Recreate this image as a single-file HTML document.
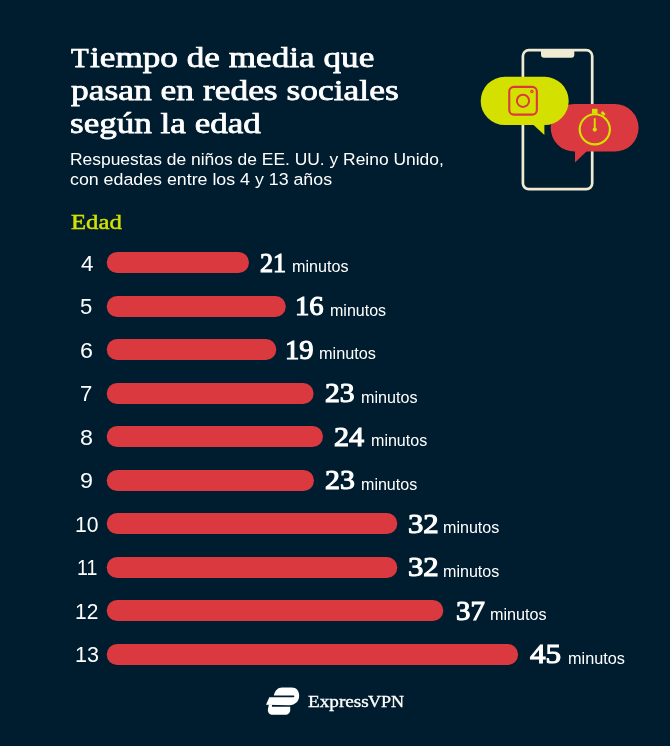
<!DOCTYPE html>
<html lang="es">
<head>
<meta charset="utf-8">
<title>Tiempo de media que pasan en redes sociales según la edad</title>
<style>
html,body{margin:0;padding:0;}
body{width:670px;height:746px;background:#001d2f;position:relative;overflow:hidden;font-family:"Liberation Sans",sans-serif;color:#fff;}
h1,p{margin:0;font-weight:normal;font-size:inherit;}
.x{position:absolute;display:block;white-space:nowrap;line-height:40px;transform-origin:0 0;color:#fff;}
.n,.t,.e,.l{font-family:"Liberation Serif",serif;font-weight:normal;}
.s,.a,.m{font-family:"Liberation Sans",sans-serif;}
svg{position:absolute;display:block;}
</style>
</head>
<body>
<h1>
<span class="x t" style="left:70.60px;top:38px;font-size:28.3px;transform:scaleX(1.0235);-webkit-text-stroke:0.75px #fff">T</span><span class="x t" style="left:90.30px;top:37px;font-size:29.5px;transform:scaleX(1.1924);-webkit-text-stroke:0.75px #fff">iempo de media que</span>
<span class="x t" style="left:70.60px;top:70px;font-size:29.5px;transform:scaleX(1.2015);-webkit-text-stroke:0.75px #fff">pasan en redes sociales</span>
<span class="x t" style="left:70.11px;top:103px;font-size:29.5px;transform:scaleX(1.1887);-webkit-text-stroke:0.75px #fff">según la edad</span>
</h1>
<p>
<span class="x s" style="left:69.73px;top:139px;font-size:16.3px;transform:scaleX(1.0700)">Respuestas de niños de EE. UU. y Reino Unido,</span>
<span class="x s" style="left:70.30px;top:159px;font-size:16.3px;transform:scaleX(1.0925)">con edades entre los 4 y 13 años</span>
</p>
<div class="x e" style="left:71.40px;top:202px;font-size:21.6px;transform:scaleX(1.1455);color:#d4e100;-webkit-text-stroke:0.45px #d4e100">Edad</div>
<div class="row">
<svg class="bar" style="left:100px;top:250.30px" width="153.0" height="25.0"><rect x="6.7" y="2" width="142.3" height="21.0" rx="10.5" fill="#da3940"/></svg>
<div class="x a" style="left:80.65px;top:244px;font-size:22.3px;transform:scaleX(1.0083)">4</div>
<div class="x n" style="left:260.20px;top:243px;font-size:27.2px;transform:scaleX(0.9615);-webkit-text-stroke:1.1px #fff">21</div>
<div class="x m" style="left:291.62px;top:246px;font-size:16.5px;transform:scaleX(0.9786)">minutos</div>
</div>
<div class="row">
<svg class="bar" style="left:100px;top:293.81px" width="189.8" height="25.0"><rect x="6.7" y="2" width="179.1" height="21.0" rx="10.5" fill="#da3940"/></svg>
<div class="x a" style="left:80.26px;top:287px;font-size:22.3px;transform:scaleX(0.9909)">5</div>
<div class="x n" style="left:294.80px;top:286px;font-size:27.2px;transform:scaleX(1.0520);-webkit-text-stroke:1.1px #fff">16</div>
<div class="x m" style="left:329.83px;top:290px;font-size:16.5px;transform:scaleX(0.9714)">minutos</div>
</div>
<div class="row">
<svg class="bar" style="left:100px;top:337.32px" width="180.3" height="25.0"><rect x="6.7" y="2" width="169.6" height="21.0" rx="10.5" fill="#da3940"/></svg>
<div class="x a" style="left:79.90px;top:331px;font-size:22.3px;transform:scaleX(1.0455)">6</div>
<div class="x n" style="left:284.90px;top:330px;font-size:27.2px;transform:scaleX(1.0480);-webkit-text-stroke:1.1px #fff">19</div>
<div class="x m" style="left:319.11px;top:333px;font-size:16.5px;transform:scaleX(0.9857)">minutos</div>
</div>
<div class="row">
<svg class="bar" style="left:100px;top:380.83px" width="217.6" height="25.0"><rect x="6.7" y="2" width="206.9" height="21.0" rx="10.5" fill="#da3940"/></svg>
<div class="x a" style="left:80.26px;top:374px;font-size:22.3px;transform:scaleX(0.9909)">7</div>
<div class="x n" style="left:325.00px;top:373px;font-size:27.2px;transform:scaleX(1.0889);-webkit-text-stroke:1.1px #fff">23</div>
<div class="x m" style="left:360.72px;top:377px;font-size:16.5px;transform:scaleX(0.9786)">minutos</div>
</div>
<div class="row">
<svg class="bar" style="left:100px;top:424.34px" width="227.0" height="25.0"><rect x="6.7" y="2" width="216.3" height="21.0" rx="10.5" fill="#da3940"/></svg>
<div class="x a" style="left:79.90px;top:418px;font-size:22.3px;transform:scaleX(1.0455)">8</div>
<div class="x n" style="left:333.90px;top:417px;font-size:27.2px;transform:scaleX(1.1071);-webkit-text-stroke:1.1px #fff">24</div>
<div class="x m" style="left:370.83px;top:420px;font-size:16.5px;transform:scaleX(0.9732)">minutos</div>
</div>
<div class="row">
<svg class="bar" style="left:100px;top:467.85px" width="218.0" height="25.0"><rect x="6.7" y="2" width="207.3" height="21.0" rx="10.5" fill="#da3940"/></svg>
<div class="x a" style="left:79.90px;top:461px;font-size:22.3px;transform:scaleX(1.0455)">9</div>
<div class="x n" style="left:325.00px;top:460px;font-size:27.2px;transform:scaleX(1.0963);-webkit-text-stroke:1.1px #fff">23</div>
<div class="x m" style="left:360.93px;top:464px;font-size:16.5px;transform:scaleX(0.9732)">minutos</div>
</div>
<div class="row">
<svg class="bar" style="left:100px;top:511.36px" width="301.3" height="25.0"><rect x="6.7" y="2" width="290.6" height="21.0" rx="10.5" fill="#da3940"/></svg>
<div class="x a" style="left:74.85px;top:505px;font-size:22.3px;transform:scaleX(0.9478)">10</div>
<div class="x n" style="left:408.20px;top:504px;font-size:27.2px;transform:scaleX(1.1308);-webkit-text-stroke:1.1px #fff">32</div>
<div class="x m" style="left:443.43px;top:507px;font-size:16.5px;transform:scaleX(0.9750)">minutos</div>
</div>
<div class="row">
<svg class="bar" style="left:100px;top:554.87px" width="301.3" height="25.0"><rect x="6.7" y="2" width="290.6" height="21.0" rx="10.5" fill="#da3940"/></svg>
<div class="x a" style="left:76.62px;top:548px;font-size:22.3px;transform:scaleX(0.8762)">11</div>
<div class="x n" style="left:408.20px;top:547px;font-size:27.2px;transform:scaleX(1.1308);-webkit-text-stroke:1.1px #fff">32</div>
<div class="x m" style="left:443.43px;top:551px;font-size:16.5px;transform:scaleX(0.9750)">minutos</div>
</div>
<div class="row">
<svg class="bar" style="left:100px;top:598.38px" width="347.3" height="25.0"><rect x="6.7" y="2" width="336.6" height="21.0" rx="10.5" fill="#da3940"/></svg>
<div class="x a" style="left:74.96px;top:592px;font-size:22.3px;transform:scaleX(0.9391)">12</div>
<div class="x n" style="left:455.80px;top:591px;font-size:27.2px;transform:scaleX(1.0593);-webkit-text-stroke:1.1px #fff">37</div>
<div class="x m" style="left:490.12px;top:594px;font-size:16.5px;transform:scaleX(0.9804)">minutos</div>
</div>
<div class="row">
<svg class="bar" style="left:100px;top:641.89px" width="422.1" height="25.0"><rect x="6.7" y="2" width="411.4" height="21.0" rx="10.5" fill="#da3940"/></svg>
<div class="x a" style="left:74.63px;top:635px;font-size:22.3px;transform:scaleX(0.9652)">13</div>
<div class="x n" style="left:530.30px;top:634px;font-size:27.2px;transform:scaleX(1.1444);-webkit-text-stroke:1.1px #fff">45</div>
<div class="x m" style="left:567.62px;top:638px;font-size:16.5px;transform:scaleX(0.9839)">minutos</div>
</div>

<!-- phone illustration -->
<svg style="left:470px;top:30px" width="180" height="180" viewBox="470 30 180 180">
  <rect x="522.9" y="50.1" width="69.3" height="139.1" rx="6" ry="6" fill="none" stroke="#f0ead2" stroke-width="2.7"/>
  <path d="M541 49 H574.3 V54.7 Q574.3 57.7 571.3 57.7 H544 Q541 57.7 541 54.7 Z" fill="#f0ead2"/>
  <!-- red bubble with stopwatch -->
  <path d="M575 150 V162.4 L587 151 Z" fill="#da3940"/>
  <rect x="550.7" y="104" width="87.9" height="47.6" rx="23.8" fill="#da3940"/>
  <circle cx="594.8" cy="129.35" r="15.1" fill="none" stroke="#d4e100" stroke-width="2.2"/>
  <rect x="592" y="108.8" width="5.5" height="5" fill="#d4e100"/>
  <rect x="601" y="112.1" width="4.2" height="2.8" fill="#d4e100" transform="rotate(45 603.1 113.5)"/>
  <path d="M594.75 118.2 V129.5" stroke="#d4e100" stroke-width="1.9" fill="none"/>
  <circle cx="594.75" cy="129.6" r="2.1" fill="#d4e100"/>
  <!-- green bubble with camera -->
  <path d="M532.5 124 L544.4 135 V124 Z" fill="#d4e100"/>
  <rect x="480.7" y="76.8" width="88" height="48.3" rx="24.15" fill="#d4e100"/>
  <rect x="509.25" y="86.85" width="27.6" height="27.8" rx="4.6" fill="none" stroke="#da3940" stroke-width="2.1"/>
  <circle cx="523" cy="100.85" r="6.1" fill="none" stroke="#da3940" stroke-width="2"/>
  <circle cx="531.9" cy="91.6" r="1.15" fill="none" stroke="#da3940" stroke-width="1.2"/>
</svg>

<!-- logo -->
<svg style="left:260px;top:682px" width="50" height="40" viewBox="0 0 670 536">
  <path d="M185 181 C200 118 238 75 295 75 L425 75 C490 75 525 122 525 185 C525 260 470 310 395 310 L80 306 L125 203 L450 203 A11 11 0 0 0 450 181 Z" fill="#fff"/>
  <path d="M118 300 L160 300 L160 332 L405 332 L405 375 C405 415 375 440 340 440 L170 440 C130 440 105 410 105 375 Z" fill="#fff"/>
</svg>
<div class="logo"><span class="x l" style="left:308.20px;top:681px;font-size:17.6px;transform:scaleX(1.0909);-webkit-text-stroke:0.35px #fff">Express</span><span class="x l" style="left:368.00px;top:681px;font-size:17.6px;transform:scaleX(1.0257);-webkit-text-stroke:0.35px #fff">VPN</span></div>
</body>
</html>
